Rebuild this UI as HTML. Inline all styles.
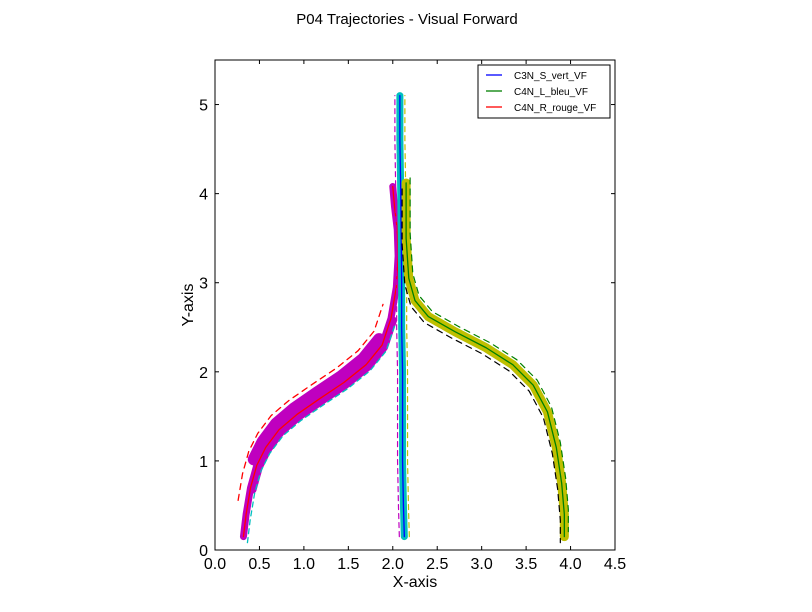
<!DOCTYPE html>
<html><head><meta charset="utf-8"><style>
body{margin:0;background:#fff;}
svg{display:block;font-family:"Liberation Sans","DejaVu Sans",sans-serif;}
</style></head><body>
<svg id="chart" width="812" height="612" viewBox="0 0 812 612">
<rect width="812" height="612" fill="#fff"/>
<text x="407" y="24" text-anchor="middle" font-size="15">P04 Trajectories - Visual Forward</text>
<g id="series"></g>
<rect x="215" y="60" width="400" height="490" fill="none" stroke="#000" stroke-width="1"/>
<g id="axes"></g>
<text x="415" y="587" text-anchor="middle" font-size="16">X-axis</text>
<text x="193" y="305" text-anchor="middle" font-size="16" transform="rotate(-90 193 305)">Y-axis</text>
<g>
<rect x="478" y="65" width="132" height="53" fill="#fff" stroke="#000" stroke-width="1"/>
<line x1="486" y1="75" x2="502" y2="75" stroke="#0000ff" stroke-width="1.3"/>
<text x="514" y="79" font-size="10">C3N_S_vert_VF</text>
<line x1="486" y1="91" x2="502" y2="91" stroke="#008000" stroke-width="1.3"/>
<text x="514" y="95" font-size="10">C4N_L_bleu_VF</text>
<line x1="486" y1="107" x2="502" y2="107" stroke="#ff0000" stroke-width="1.3"/>
<text x="514" y="111" font-size="10">C4N_R_rouge_VF</text>
</g>
</svg>
<script>
const xTicks=[0,0.5,1,1.5,2,2.5,3,3.5,4,4.5];
const yTicks=[0,1,2,3,4,5];
// left trajectory (red mean, magenta band)
const leftX=[0.32,0.35,0.4,0.47,0.57,0.72,0.92,1.18,1.45,1.7,1.88,1.98,2.04,2.06,2.05,2.02,2.0];
const leftY=[0.15,0.4,0.7,0.95,1.15,1.35,1.52,1.7,1.88,2.08,2.3,2.6,2.95,3.3,3.6,3.85,4.08];
// middle trajectory (blue mean, cyan band)
const midX=[2.13,2.12,2.11,2.11,2.11,2.1,2.1,2.09,2.08,2.08];
const midY=[0.15,0.5,1.0,1.5,2.0,2.5,3.0,4.0,4.6,5.1];
// right trajectory (green mean, yellow band)
const rightX=[2.15,2.15,2.18,2.25,2.4,2.7,3.05,3.35,3.58,3.74,3.84,3.9,3.93,3.93];
const rightY=[4.12,3.5,3.05,2.8,2.62,2.45,2.27,2.08,1.85,1.55,1.15,0.75,0.4,0.15];
const X=v=>215+v*400/4.5, Y=v=>550-v*490/5.5;
const NS="http://www.w3.org/2000/svg";
const series=document.getElementById('series'), axes=document.getElementById('axes');
function path(xs,ys,dx,dy,color,w,dash,name,from,to){
  from=from||0;to=to||xs.length;
  const p=document.createElementNS(NS,'polyline');
  const pts=[];
  for(let i=from;i<to;i++)pts.push((X(xs[i])+dx)+','+(Y(ys[i])+dy));
  p.setAttribute('points',pts.join(' '));
  p.setAttribute('fill','none');p.setAttribute('stroke',color);p.setAttribute('stroke-width',w);
  p.setAttribute('stroke-linejoin','round');p.setAttribute('stroke-linecap','round');
  if(dash)p.setAttribute('stroke-dasharray',dash);
  
  
  series.appendChild(p);
}
// left
path(leftX,leftY,0,0,'#bf00bf',7,null,'left-band');
path(leftX,leftY,-3,-6,'#bf00bf',12,null,'left-band-wide',3,11);
path(leftX,leftY,2,2,'#bf00bf',8,null,'left-band-lower',2,12);
path(leftX,leftY,-8,-14,'#ff0000',1.3,'6,5','left-upper-bound',1,12);
path(leftX,leftY,4,6,'#00bfbf',1.3,'5,4','left-lower-bound',0,12);
path(leftX,leftY,0,0,'#ff0000',1.3,null,'left-mean-line');
// middle
path(midX,midY,0,0,'#00bfbf',7,null,'middle-band');
path(midX,midY,5,0,'#bfbf00',1.2,'5,4','middle-right-bound');
path(midX,midY,-5,0,'#bf00bf',1.2,'5,4','middle-left-bound');
path(midX,midY,0,0,'#0000ff',1.3,null,'middle-mean-line');
// right
path(rightX,rightY,0,0,'#bfbf00',9,null,'right-band');
path(rightX,rightY,4,-5,'#008000',1.2,'6,5','right-upper-bound');
path(rightX,rightY,-4,6,'#000000',1.2,'6,5','right-lower-bound');
path(rightX,rightY,0,0,'#008000',1.3,null,'right-mean-line');
xTicks.forEach(v=>{
  const x=X(v);
  [[550,546],[60,64]].forEach(([a,b])=>{const l=document.createElementNS(NS,'line');
    l.setAttribute('x1',x);l.setAttribute('x2',x);l.setAttribute('y1',a);l.setAttribute('y2',b);l.setAttribute('stroke','#000');
    
    
    axes.appendChild(l);});
  const t=document.createElementNS(NS,'text');t.setAttribute('x',x);t.setAttribute('y',569);t.setAttribute('text-anchor','middle');t.setAttribute('font-size','16');t.textContent=v.toFixed(1);
  
  
  axes.appendChild(t);
});
yTicks.forEach(v=>{
  const y=Y(v);
  [[215,219],[615,611]].forEach(([a,b])=>{const l=document.createElementNS(NS,'line');
    l.setAttribute('x1',a);l.setAttribute('x2',b);l.setAttribute('y1',y);l.setAttribute('y2',y);l.setAttribute('stroke','#000');
    
    
    axes.appendChild(l);});
  const t=document.createElementNS(NS,'text');t.setAttribute('x',208);t.setAttribute('y',y+6);t.setAttribute('text-anchor','end');t.setAttribute('font-size','16');t.textContent=v;
  
  
  axes.appendChild(t);
});
</script>
</body></html>
